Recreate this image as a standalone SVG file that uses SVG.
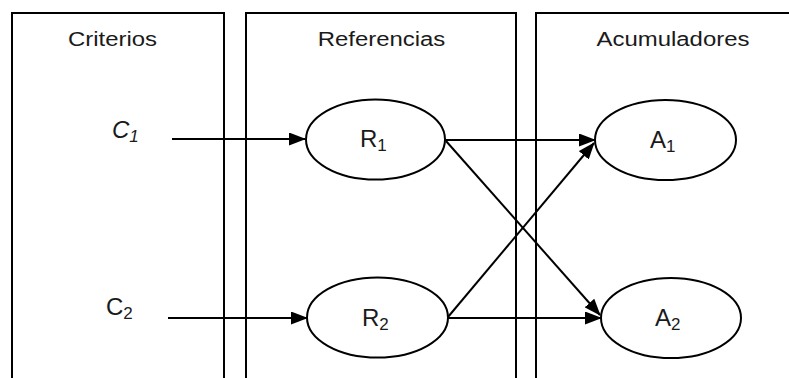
<svg xmlns="http://www.w3.org/2000/svg" width="789" height="378" viewBox="0 0 789 378">
<style>
  .frame { fill: none; stroke: #000; stroke-width: 2; }
  .node { fill: #fff; stroke: #000; stroke-width: 2; }
  .edge { fill: none; stroke: #000; stroke-width: 2; marker-end: url(#arrow); }
  .t { font-family: "Liberation Sans", Arial, sans-serif; font-size: 21px; fill: #1a1a1a; }
  .lbl { font-family: "Liberation Sans", Arial, sans-serif; font-size: 24px; fill: #1a1a1a; }
  .sub { font-size: 17px; }
  .it { font-style: italic; }
</style>
<defs>
  <marker id="arrow" markerUnits="userSpaceOnUse" viewBox="0 0 17 13" markerWidth="17" markerHeight="13" refX="16" refY="6.5" orient="auto">
    <path d="M0,0 L17,6.5 L0,13 z" fill="#000"/>
  </marker>
</defs>
<rect width="789" height="378" fill="#fff"/>
<g id="col-criterios">
  <path class="frame" d="M12,380 V13 H224 V380"/>
  <text class="t" text-anchor="middle" transform="translate(112.5,46) scale(1.14,1)">Criterios</text>
</g>
<g id="col-referencias">
  <path class="frame" d="M246,380 V13 H516 V380"/>
  <text class="t" text-anchor="middle" transform="translate(381.5,46) scale(1.14,1)">Referencias</text>
</g>
<g id="col-acumuladores">
  <path class="frame" d="M536,380 V13 H792"/>
  <text class="t" text-anchor="middle" transform="translate(673,46) scale(1.14,1)">Acumuladores</text>
</g>
<g id="c1">
  <text class="lbl it" x="112" y="138">C<tspan class="sub" dy="4">1</tspan></text>
</g>
<g id="c2">
  <text class="lbl" x="106" y="315">C<tspan class="sub" dy="4">2</tspan></text>
</g>
<g id="connectors">
  <line class="edge" x1="172" y1="139" x2="305" y2="139"/>
  <line class="edge" x1="168" y1="318" x2="307" y2="318"/>
  <line class="edge" x1="445" y1="140" x2="595" y2="140"/>
  <line class="edge" x1="446" y1="141" x2="600" y2="315"/>
  <line class="edge" x1="448" y1="317" x2="594" y2="143"/>
  <line class="edge" x1="448" y1="318" x2="601" y2="318"/>
</g>
<g id="R1">
  <ellipse class="node" cx="375.5" cy="139.5" rx="69.5" ry="40"/>
  <text class="lbl" x="360" y="147">R<tspan class="sub" dy="4">1</tspan></text>
</g>
<g id="R2">
  <ellipse class="node" cx="377.5" cy="317.5" rx="70.5" ry="40"/>
  <text class="lbl" x="362" y="326">R<tspan class="sub" dy="4">2</tspan></text>
</g>
<g id="A1">
  <ellipse class="node" cx="665.5" cy="140" rx="70.5" ry="40"/>
  <text class="lbl" x="650" y="148">A<tspan class="sub" dy="4">1</tspan></text>
</g>
<g id="A2">
  <ellipse class="node" cx="671" cy="318" rx="70" ry="40"/>
  <text class="lbl" x="655" y="326">A<tspan class="sub" dy="4">2</tspan></text>
</g>
</svg>
